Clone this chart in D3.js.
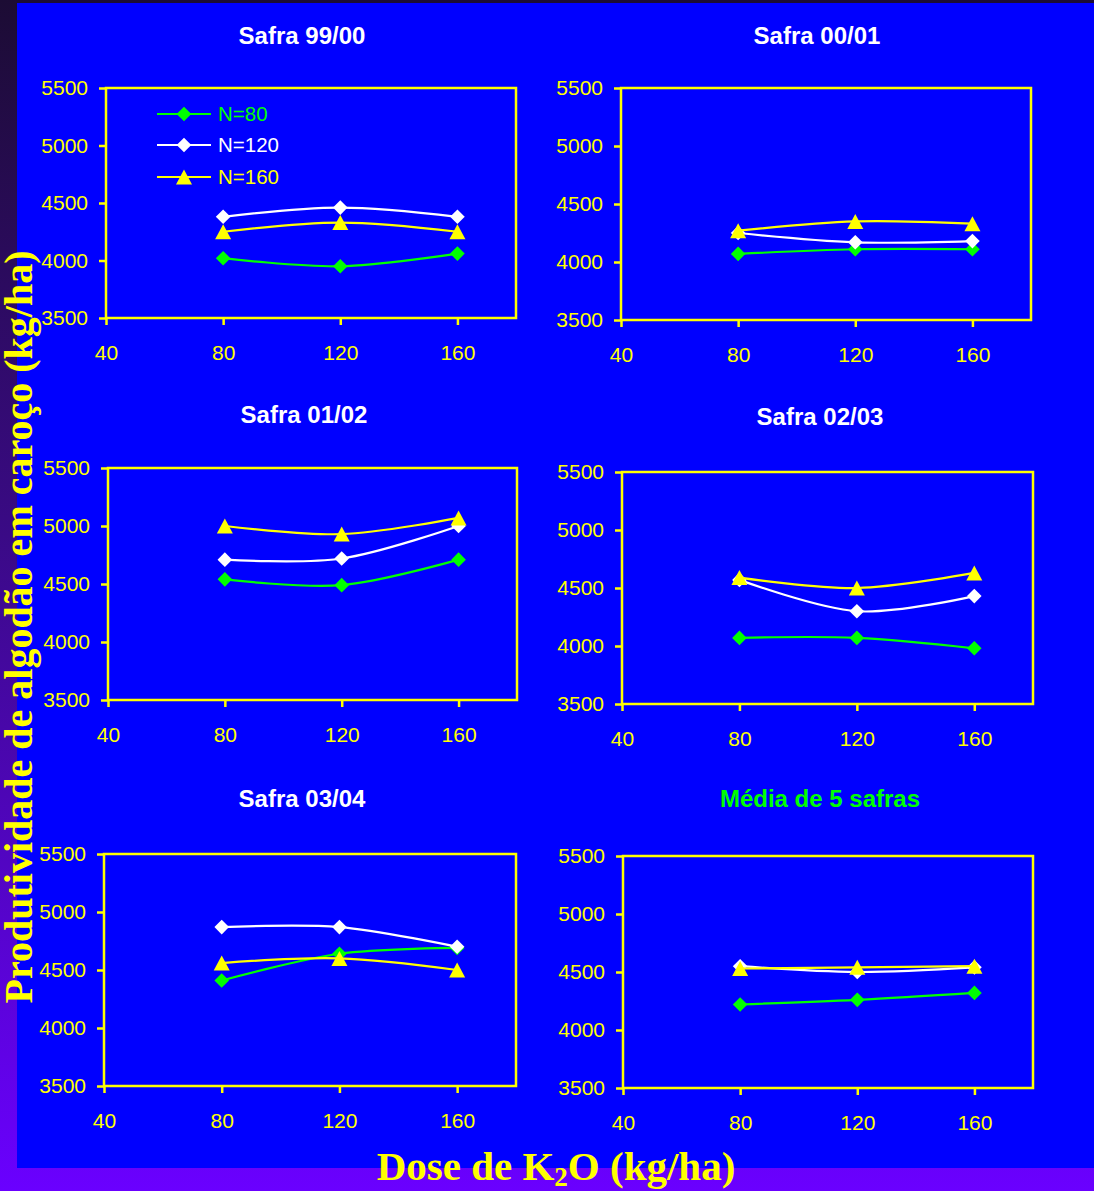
<!DOCTYPE html>
<html>
<head>
<meta charset="utf-8">
<script src="https://cdn.jsdelivr.net/npm/d3@7"></script>
<style>
  html, body { margin: 0; padding: 0; background: #000; }
  svg { display: block; }
</style>
</head>
<body>
<svg id="chart" width="1094" height="1191"></svg>
<script>
// Cotton seed yield (kg/ha) by K2O dose, one panel per season plus the 5-season mean
const doses = [80, 120, 160];
const seriesNames = ["N=80", "N=120", "N=160"];
const panelTitles = ["Safra 99/00", "Safra 00/01", "Safra 01/02", "Safra 02/03", "Safra 03/04", "Média de 5 safras"];

const n80  = [[4020, 3950, 4060], [4070, 4110, 4110], [4540, 4490, 4710], [4070, 4070, 3980], [4410, 4640, 4690], [4220, 4260, 4320]];
const n120 = [[4380, 4460, 4380], [4250, 4170, 4180], [4710, 4720, 5000], [4570, 4300, 4430], [4870, 4870, 4700], [4550, 4500, 4540]];
const n160 = [[4250, 4330, 4250], [4270, 4350, 4330], [5000, 4930, 5070], [4590, 4500, 4630], [4560, 4600, 4500], [4530, 4540, 4550]];

const xTicks = [40, 80, 120, 160];
const yTicks = [3500, 4000, 4500, 5000, 5500];
const xDomain = [40, 180];
const yDomain = [3500, 5500];

const yTitle = "Produtividade de algodão em caroço (kg/ha)";

// Plot-area rectangles and title placement for each panel
const layout = [
  { x0: 106, x1: 516, y0: 88,  y1: 318,  tx: 302, ty: 44 },
  { x0: 621, x1: 1031, y0: 88, y1: 320,  tx: 817, ty: 44 },
  { x0: 108, x1: 517, y0: 468, y1: 700,  tx: 304, ty: 423 },
  { x0: 622, x1: 1033, y0: 472, y1: 704, tx: 820, ty: 425 },
  { x0: 104, x1: 516, y0: 854, y1: 1086, tx: 302, ty: 807 },
  { x0: 623, x1: 1033, y0: 856, y1: 1088, tx: 820, ty: 807 }
];

const YELLOW = "#ffff00", WHITE = "#ffffff", GREEN = "#00ff00", BLUE = "#0000ff";
const seriesColors = [GREEN, WHITE, YELLOW];
const seriesMarkers = ["diamond", "diamond", "triangle"];
const titleColors = [WHITE, WHITE, WHITE, WHITE, WHITE, GREEN];

const svg = d3.select("#chart");
const defs = svg.append("defs");
const grad = defs.append("linearGradient").attr("id", "bg").attr("x1", 0).attr("y1", 0).attr("x2", 0).attr("y2", 1);
grad.append("stop").attr("offset", "0%").attr("stop-color", "#1c0c34");
grad.append("stop").attr("offset", "45%").attr("stop-color", "#3a0a86");
grad.append("stop").attr("offset", "100%").attr("stop-color", "#6a00ff");

svg.append("rect").attr("width", 1094).attr("height", 1191).attr("fill", "url(#bg)");
svg.append("rect").attr("x", 17).attr("y", 3).attr("width", 1077).attr("height", 1165).attr("fill", BLUE);

const diamond = r => `M0,${-r}L${r},0L0,${r}L${-r},0Z`;
const triangle = (w, h) => `M0,${-h / 2}L${w / 2},${h / 2}L${-w / 2},${h / 2}Z`;
function markerPath(type) { return type === "diamond" ? diamond(7.3) : triangle(16, 15); }

const allSeries = [n80, n120, n160];

layout.forEach((L, p) => {
  const x = d3.scaleLinear().domain(xDomain).range([L.x0, L.x1]);
  const y = d3.scaleLinear().domain(yDomain).range([L.y1, L.y0]);
  const g = svg.append("g");

  // plot border
  g.append("rect").attr("x", L.x0).attr("y", L.y0)
    .attr("width", L.x1 - L.x0).attr("height", L.y1 - L.y0)
    .attr("fill", "none").attr("stroke", YELLOW).attr("stroke-width", 2.5);

  const yAxis = g.append("g").attr("transform", `translate(${L.x0},0)`)
    .call(d3.axisLeft(y).tickValues(yTicks).tickSize(7).tickPadding(11).tickFormat(d3.format("d")));
  const xAxis = g.append("g").attr("transform", `translate(0,${L.y1})`)
    .call(d3.axisBottom(x).tickValues(xTicks).tickSize(7).tickPadding(20).tickFormat(d3.format("d")));
  [yAxis, xAxis].forEach(a => {
    a.select(".domain").remove();
    a.selectAll("line").attr("stroke", YELLOW).attr("stroke-width", 2.5);
    a.selectAll("text").attr("fill", YELLOW)
      .style("font-family", "Arial, 'Liberation Sans', sans-serif").style("font-size", "21px");
  });

  g.append("text").attr("x", L.tx).attr("y", L.ty).attr("text-anchor", "middle")
    .attr("fill", titleColors[p])
    .style("font-family", "Arial, 'Liberation Sans', sans-serif").style("font-weight", "bold").style("font-size", "24px")
    .text(panelTitles[p]);

  const line = d3.line().x((d, i) => x(doses[i])).y(d => y(d)).curve(d3.curveCatmullRom.alpha(0));

  allSeries.forEach((s, k) => {
    const vals = s[p];
    g.append("path").datum(vals).attr("d", line)
      .attr("fill", "none").attr("stroke", seriesColors[k]).attr("stroke-width", 2.2);
    g.selectAll(null).data(vals).enter().append("path")
      .attr("transform", (d, i) => `translate(${x(doses[i])},${y(d)})`)
      .attr("d", markerPath(seriesMarkers[k]))
      .attr("fill", seriesColors[k]);
  });

  // legend in the first panel
  if (p === 0) {
    const lg = g.append("g");
    const rows = [114, 145, 177];
    seriesNames.forEach((name, k) => {
      lg.append("line").attr("x1", 157).attr("x2", 211).attr("y1", rows[k]).attr("y2", rows[k])
        .attr("stroke", seriesColors[k]).attr("stroke-width", 2.2);
      lg.append("path").attr("transform", `translate(184,${rows[k]})`)
        .attr("d", markerPath(seriesMarkers[k])).attr("fill", seriesColors[k]);
      lg.append("text").attr("x", 218).attr("y", rows[k]).attr("dy", "0.36em")
        .attr("fill", seriesColors[k])
        .style("font-family", "Arial, 'Liberation Sans', sans-serif").style("font-size", "20.5px")
        .text(name);
    });
  }
});

// shared axis titles
const xt = svg.append("text").attr("x", 556).attr("y", 1180).attr("text-anchor", "middle")
  .attr("fill", YELLOW)
  .style("font-family", "'Times New Roman', 'Liberation Serif', serif").style("font-weight", "bold").style("font-size", "41px");
xt.append("tspan").text("Dose de K");
xt.append("tspan").attr("dy", 6).style("font-size", "27px").text("2");
xt.append("tspan").attr("dy", -6).text("O (kg/ha)");

svg.append("text").attr("transform", "translate(32,627) rotate(-90)").attr("text-anchor", "middle")
  .attr("fill", YELLOW)
  .style("font-family", "'Times New Roman', 'Liberation Serif', serif").style("font-weight", "bold").style("font-size", "40px")
  .text(yTitle);
</script>
</body>
</html>
